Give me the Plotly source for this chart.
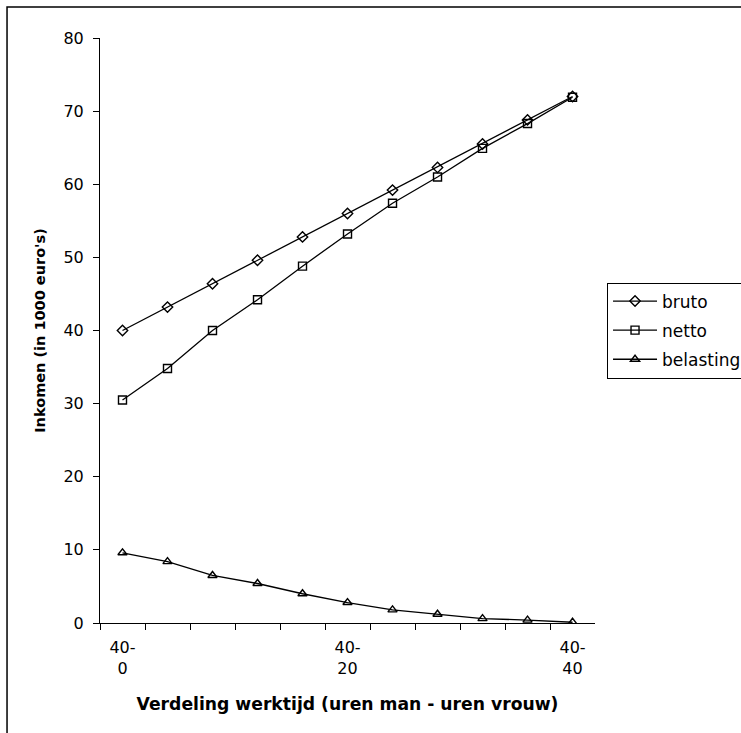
import plotly.graph_objects as go

categories = ["40-0", "40-4", "40-8", "40-12", "40-16", "40-20",
              "40-24", "40-28", "40-32", "40-36", "40-40"]
tick_labels = ["40-<br>0", "", "", "", "", "40-<br>20", "", "", "", "", "40-<br>40"]
bruto = [40.0, 43.2, 46.4, 49.6, 52.8, 56.0, 59.2, 62.3, 65.5, 68.8, 72.0]
netto = [30.5, 34.8, 40.0, 44.2, 48.8, 53.2, 57.4, 61.0, 64.9, 68.3, 71.9]
belasting = [9.6, 8.4, 6.5, 5.4, 4.0, 2.8, 1.8, 1.2, 0.6, 0.4, 0.1]

FONT = "DejaVu Sans, Liberation Sans, Arial, sans-serif"

fig = go.Figure()
for name, vals, sym in [("bruto", bruto, "diamond-open"),
                        ("netto", netto, "square-open"),
                        ("belasting", belasting, "triangle-up-open")]:
    fig.add_trace(go.Scatter(
        x=categories, y=vals, name=name, mode="lines+markers", legendgroup=name,
        line=dict(color="black", width=1.3),
        marker=dict(symbol=sym, size=8, color="black", line=dict(width=1.4, color="black")),
    ))

fig.update_layout(
    width=741, height=733,
    margin=dict(l=100, r=21, t=38, b=110),
    paper_bgcolor="white", plot_bgcolor="white",
    font=dict(family=FONT, size=16, color="black"),
    showlegend=True,
    legend=dict(xref="container", x=0.8192, y=0.5, xanchor="left", yanchor="middle",
                bordercolor="black", borderwidth=1, bgcolor="white",
                font=dict(size=17, family=FONT), tracegroupgap=4,
                itemwidth=44),
    xaxis=dict(
        type="category", range=[-0.5, 10.5],
        tickmode="array", tickvals=categories, ticktext=tick_labels,
        tickson="boundaries", ticks="outside", ticklen=6, tickcolor="black",
        ticklabelstandoff=10,
        showline=True, linecolor="black", linewidth=1, showgrid=False, zeroline=False,
        tickfont=dict(size=16, family=FONT),
        title=dict(text="<b>Verdeling werktijd (uren man - uren vrouw)</b>",
                   font=dict(size=17.2, family=FONT), standoff=20),
    ),
    yaxis=dict(
        range=[0, 80], dtick=10, ticks="outside", ticklen=6, tickcolor="black",
        ticklabelstandoff=6,
        showline=True, linecolor="black", linewidth=1, showgrid=False, zeroline=False,
        tickfont=dict(size=16, family=FONT),
        title=dict(text="<b>Inkomen (in 1000 euro's)</b>",
                   font=dict(size=14.5, family=FONT), standoff=14),
    ),
)

fig.add_shape(type="rect", xref="paper", yref="paper",
              x0=-0.1878, y0=-0.4, x1=1.5, y1=1.053,
              line=dict(color="black", width=1.5), fillcolor="rgba(0,0,0,0)", layer="below")

fig.write_html("out.html")
